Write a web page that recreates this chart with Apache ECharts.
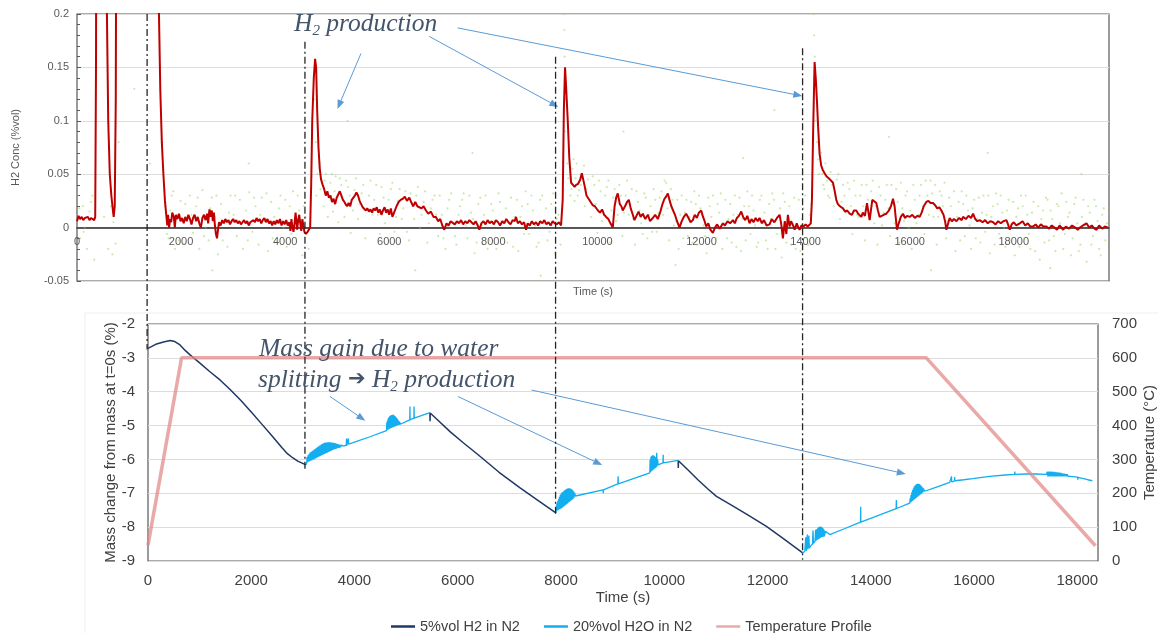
<!DOCTYPE html>
<html>
<head>
<meta charset="utf-8">
<title>H2 production and mass change</title>
<script src="https://cdn.jsdelivr.net/npm/echarts@6/dist/echarts.min.js"></script>
<style>
  html, body { margin: 0; padding: 0; background: #fff; }
  #main { width: 1158px; height: 633px; }
</style>
</head>
<body>
<div id="main"></div>
<script>
// ---- top panel: H2 concentration (%vol) against time (s) ----
var h2ConcLine = [
  [0,0.006],[30,0.011],[60,0.008],[90,0.01],[120,0.007],[150,0.009],[180,0.008],[210,0.01],[240,0.007],[270,0.009],[300,0.008],[330,0.007],[350,0.01],[365,0.15],[375,0.4],
  [560,0.4],[575,0.2],[600,0.1],[630,0.05],[660,0.03],[690,0.016],[705,0.01],[725,0.02],[745,0.12],[760,0.4],
  [1555,0.4],[1575,0.2],[1600,0.13],[1630,0.08],[1660,0.05],[1690,0.025],[1715,0.012],[1735,0.002],[1750,0.012],[1770,0.0],[1790,0.008],[1810,0.005],[1830,0.014],[1860,0.01],[1880,0.0],[1900,0.012],[1930,0.008],[1960,0.013],[1990,0.006],[2020,0.009],[2050,0.004],[2080,0.01],[2110,0.006],[2140,0.012],[2170,0.008],[2200,0.003],[2230,0.009],[2260,0.012],[2290,0.006],[2320,0.01],[2350,0.004],[2380,0.0],[2410,0.009],[2440,0.012],[2470,0.007],[2500,0.013],[2520,0.004],[2545,0.017],[2565,0.01],[2590,0.016],[2610,0.006],[2630,0.014],[2650,0.002],[2670,-0.006],[2690,-0.01],[2710,-0.002],[2730,0.005],[2760,0.002],[2790,0.007],[2820,0.004],[2850,0.008],[2880,0.005],[2910,0.007],[2940,0.003],[2970,0.006],[3000,0.008],[3030,0.005],[3060,0.007],[3090,0.004],[3120,0.006],[3150,0.003],[3180,0.005],[3210,0.007],[3240,0.004],[3270,0.006],[3300,0.002],[3330,0.005],[3360,0.004],[3390,0.007],[3420,0.005],[3450,0.009],[3480,0.006],[3510,0.008],[3540,0.004],[3570,0.007],[3600,0.009],[3630,0.005],[3660,0.008],[3690,0.004],[3720,0.006],[3750,0.002],[3780,0.006],[3810,0.003],[3840,0.007],[3870,0.004],[3900,0.008],[3930,0.002],[3960,0.006],[3990,0.003],[4020,0.007],[4050,0.002],[4080,0.005],[4100,-0.003],[4120,0.008],[4140,0.0],[4160,-0.004],[4180,0.004],[4200,0.014],[4215,0.006],[4230,-0.002],[4250,0.007],[4270,0.012],[4290,0.004],[4310,-0.003],[4330,0.008],[4350,0.002],[4370,-0.004],[4400,-0.006],[4430,-0.004],[4460,-0.005],[4480,0.0],
  [4500,0.04],[4520,0.1],[4550,0.14],[4575,0.158],[4595,0.15],[4615,0.11],[4640,0.075],[4665,0.055],[4690,0.045],[4720,0.04],[4750,0.036],[4780,0.03],[4810,0.034],[4840,0.028],[4870,0.03],[4900,0.024],[4930,0.027],[4960,0.022],[4990,0.028],[5020,0.031],[5050,0.034],[5080,0.03],[5110,0.026],[5140,0.024],[5160,0.022],[5190,0.02],[5220,0.023],[5250,0.02],[5280,0.026],[5310,0.028],[5340,0.03],[5370,0.033],[5400,0.03],[5430,0.025],[5460,0.022],[5490,0.019],[5520,0.018],[5550,0.016],[5580,0.018],[5610,0.015],[5640,0.017],[5670,0.014],[5700,0.018],[5730,0.016],[5760,0.019],[5790,0.014],[5820,0.017],[5850,0.012],[5880,0.016],[5910,0.019],[5940,0.014],[5970,0.017],[6000,0.012],[6030,0.018],[6060,0.01],[6100,0.015],[6140,0.02],[6180,0.024],[6220,0.026],[6260,0.027],[6300,0.029],[6340,0.025],[6385,0.028],[6420,0.024],[6460,0.02],[6500,0.024],[6540,0.02],[6577,0.021],[6620,0.018],[6660,0.02],[6705,0.016],[6750,0.013],[6800,0.015],[6850,0.01],[6897,0.01],[6940,0.006],[6980,0.008],[7020,0.002],[7058,-0.002],[7100,0.004],[7140,0.002],[7180,0.006],[7218,0.007],[7260,0.003],[7300,0.006],[7340,0.004],[7380,0.007],[7420,0.003],[7460,0.006],[7500,0.004],[7540,0.007],[7580,0.005],[7620,0.003],[7660,0.006],[7700,0.002],[7731,-0.002],[7770,0.004],[7810,0.006],[7850,0.003],[7890,0.007],[7930,0.004],[7970,0.006],[8010,0.003],[8050,0.007],[8090,0.005],[8130,0.002],[8170,0.006],[8210,0.004],[8250,0.008],[8290,0.005],[8330,0.003],[8370,0.007],[8410,0.006],[8436,0.01],[8470,0.004],[8510,0.006],[8550,0.003],[8590,0.005],[8628,-0.002],[8660,0.004],[8700,0.002],[8740,0.006],[8780,0.003],[8820,0.005],[8860,0.002],[8900,0.006],[8940,0.004],[8980,0.007],[9020,0.003],[9060,0.005],[9100,0.002],[9140,0.006],[9180,0.004],[9220,0.003],[9260,0.005],[9301,0.002],
  [9333,0.026],[9355,0.11],[9378,0.15],[9400,0.13],[9430,0.1],[9460,0.065],[9494,0.042],[9530,0.04],[9560,0.038],[9590,0.04],[9630,0.041],[9670,0.045],[9700,0.051],[9718,0.05],[9750,0.04],[9790,0.03],[9830,0.027],[9870,0.024],[9910,0.021],[9950,0.02],[9974,0.019],[10010,0.016],[10050,0.014],[10090,0.017],[10130,0.012],[10167,0.01],[10210,0.008],[10250,0.004],[10295,0.0],[10330,0.02],[10360,0.028],[10391,0.032],[10430,0.022],[10460,0.02],[10487,0.016],[10530,0.02],[10570,0.024],[10603,0.026],[10640,0.018],[10680,0.012],[10712,0.007],[10750,0.011],[10790,0.015],[10830,0.01],[10872,0.013],[10920,0.008],[10970,0.012],[11010,0.006],[11064,0.009],[11110,0.012],[11160,0.008],[11210,0.015],[11250,0.022],[11288,0.027],[11320,0.029],[11353,0.032],[11390,0.025],[11420,0.02],[11449,0.019],[11490,0.012],[11530,0.006],[11577,0.0],[11620,0.006],[11660,0.01],[11705,0.013],[11750,0.009],[11790,0.005],[11833,0.007],[11870,0.012],[11910,0.009],[11950,0.014],[11994,0.016],[12030,0.01],[12060,0.006],[12090,0.001],[12130,0.004],[12170,-0.002],[12218,-0.005],[12260,0.0],[12300,0.003],[12350,-0.001],[12410,0.004],[12450,0.002],[12500,0.006],[12550,0.004],[12603,0.007],[12640,0.004],[12680,0.009],[12720,0.011],[12763,0.015],[12800,0.01],[12840,0.007],[12880,0.011],[12923,0.004],[12960,0.008],[13000,0.005],[13040,0.009],[13080,0.006],[13115,0.009],[13160,0.004],[13200,0.007],[13250,0.002],[13308,0.003],[13350,0.008],[13400,0.005],[13450,0.009],[13500,0.012],[13530,0.004],[13564,-0.01],[13600,0.006],[13630,-0.006],[13660,0.012],[13692,0.001],[13720,0.006],[13760,0.002],[13790,-0.002],[13830,0.004],[13860,0.0],[13885,-0.002],[13920,0.002],[13960,0.001],[14000,0.003],[14040,0.001],[14077,0.0],[14100,0.004],
  [14122,0.026],[14145,0.09],[14173,0.155],[14195,0.14],[14218,0.119],[14240,0.095],[14269,0.069],[14300,0.058],[14330,0.054],[14365,0.051],[14400,0.048],[14449,0.046],[14490,0.044],[14526,0.042],[14560,0.034],[14590,0.026],[14620,0.022],[14660,0.02],[14718,0.018],[14760,0.015],[14800,0.016],[14846,0.013],[14890,0.012],[14930,0.016],[14974,0.016],[15010,0.013],[15040,0.012],[15071,0.01],[15100,0.014],[15140,0.011],[15180,0.023],[15205,0.015],[15231,0.007],[15255,0.016],[15282,0.026],[15320,0.025],[15359,0.023],[15390,0.016],[15423,0.01],[15460,0.011],[15500,0.012],[15551,0.013],[15600,0.016],[15640,0.02],[15679,0.027],[15710,0.02],[15735,0.008],[15756,-0.002],[15790,0.004],[15830,0.01],[15872,0.013],[15910,0.009],[15950,0.011],[16000,0.01],[16050,0.012],[16100,0.009],[16150,0.011],[16192,0.01],[16230,0.014],[16270,0.02],[16320,0.024],[16360,0.025],[16400,0.023],[16449,0.023],[16490,0.021],[16530,0.018],[16570,0.019],[16609,0.016],[16650,0.012],[16680,0.006],[16705,-0.002],[16740,0.004],[16769,0.009],[16810,0.006],[16850,0.008],[16900,0.006],[16950,0.009],[17000,0.007],[17026,0.01],[17080,0.008],[17130,0.011],[17180,0.009],[17218,0.013],[17260,0.008],[17300,0.006],[17346,0.007],[17400,0.005],[17450,0.007],[17500,0.004],[17550,0.006],[17603,0.005],[17650,0.003],[17700,0.006],[17750,0.004],[17800,0.006],[17859,0.007],[17890,0.003],[17923,-0.002],[17960,0.003],[18000,0.005],[18050,0.002],[18115,0.004],[18170,0.006],[18220,0.002],[18270,0.004],[18320,0.001],[18372,0.001],[18420,0.003],[18470,0.0],[18520,0.003],[18570,0.001],[18628,0.001],[18680,-0.001],[18730,0.002],[18780,0.0],[18830,-0.002],[18880,0.002],[18949,-0.002],[19000,0.001],[19060,-0.001],[19120,0.002],[19180,0.0],[19230,-0.002],[19269,0.0],[19330,0.002],[19397,0.004],[19450,0.0],[19500,0.002],[19550,-0.001],[19590,-0.002],[19640,0.002],[19700,-0.001],[19750,0.001],[19808,0.0]
];
// raw analyser readings (the faint green dots)
var h2ConcRaw = [
  [20,0.03],[60,-0.01],[110,0.02],[150,0.0],[190,-0.02],[240,0.015],[300,0.03],[330,-0.03],[520,0.01],[600,-0.02],[650,0.02],[680,-0.025],[700,0.005],[740,-0.015],[800,0.08],[1100,0.13],[1400,0.06],
  [1700,0.02],[1760,-0.01],[1820,0.03],[1880,-0.02],[1930,0.012],[1990,0.025],[2050,-0.015],[2110,0.008],[2170,0.03],[2230,-0.005],[2290,0.02],[2350,-0.02],[2410,0.035],[2470,0.0],[2530,-0.012],[2590,0.028],[2600,-0.04],[2650,0.01],[2710,-0.025],[2770,0.022],[2830,0.004],[2890,-0.018],[2950,0.03],[3010,0.012],[3070,-0.008],[3130,0.026],[3190,-0.02],[3250,0.016],[3300,0.06],[3310,0.033],[3370,-0.004],[3430,0.02],[3490,-0.016],[3550,0.028],[3610,0.006],[3670,-0.022],[3730,0.024],[3790,0.01],[3850,-0.012],[3910,0.03],[3970,0.0],[4030,-0.018],[4090,0.02],[4150,0.034],[4210,-0.01],[4270,0.016],[4330,-0.026],[4390,0.01],[4450,-0.02],
  [4560,0.12],[4590,0.08],[4620,0.05],[4660,0.06],[4700,0.045],[4740,0.02],[4780,0.05],[4820,0.01],[4870,0.042],[4920,0.015],[4970,0.048],[5020,0.005],[5080,0.04],[5140,0.01],[5200,0.1],[5210,0.038],[5260,-0.005],[5330,0.035],[5400,0.008],[5470,0.032],[5540,-0.01],[5610,0.03],[5680,0.012],[5750,0.04],[5820,-0.006],[5890,0.028],[5960,0.014],[6030,0.036],[6100,-0.004],[6170,0.025],[6240,0.008],[6310,0.034],[6380,-0.012],[6450,0.02],[6500,-0.04],[6520,0.03],[6590,0.0],[6660,0.024],[6730,-0.014],[6800,0.018],[6870,0.03],[6940,-0.008],[7010,0.012],[7080,-0.02],[7150,0.026],[7220,0.004],[7290,-0.016],[7360,0.02],[7430,0.032],[7500,-0.01],[7570,0.014],[7600,0.07],[7640,-0.024],[7710,0.022],[7780,0.002],[7850,0.03],[7920,-0.012],[7990,0.016],[8060,-0.02],[8130,0.024],[8200,0.006],[8270,-0.014],[8340,0.028],[8410,0.01],[8480,-0.022],[8550,0.02],[8620,0.034],[8690,-0.006],[8760,0.016],[8830,-0.018],[8900,0.026],[8910,-0.045],[8970,0.004],[9040,-0.012],[9110,0.022],[9180,-0.024],[9250,0.012],
  [9360,0.2],[9365,0.185],[9370,0.16],[9375,0.14],[9380,0.09],[9400,0.12],[9420,0.06],[9450,0.07],[9480,0.03],[9520,0.055],[9560,0.025],[9600,0.06],[9650,0.035],[9700,0.05],[9760,0.02],[9820,0.045],[9880,0.01],[9940,0.04],[10000,-0.005],[10060,0.034],[10120,0.012],[10180,0.038],[10240,-0.014],[10300,0.028],[10360,0.006],[10420,0.04],[10480,-0.008],[10500,0.09],[10540,0.03],[10600,0.012],[10660,0.036],[10720,-0.016],[10780,0.024],[10840,0.004],[10900,0.032],[10960,-0.01],[11020,0.02],[11080,0.036],[11140,-0.004],[11200,0.028],[11260,0.012],[11320,0.042],[11380,-0.012],[11440,0.026],[11500,-0.035],[11510,0.006],[11560,-0.02],[11620,0.03],[11680,0.014],[11740,-0.008],[11800,0.024],[11860,0.034],[11920,-0.016],[11980,0.018],[12040,0.002],[12100,-0.024],[12160,0.02],[12220,0.03],[12280,-0.01],[12340,0.014],[12400,-0.02],[12460,0.026],[12520,0.008],[12580,-0.014],[12640,0.03],[12700,0.012],[12760,-0.022],[12800,0.065],[12820,0.02],[12880,0.034],[12940,-0.006],[13000,0.016],[13060,-0.018],[13120,0.026],[13180,0.004],[13240,-0.012],[13300,0.022],[13360,0.032],[13400,0.11],[13420,-0.02],[13480,0.01],[13540,-0.028],[13600,0.024],[13660,0.006],[13720,-0.016],[13780,0.028],[13840,0.0],[13900,-0.022],[13960,0.018],[14020,-0.01],[14080,0.012],
  [14160,0.2],[14165,0.18],[14170,0.14],[14175,0.16],[14190,0.1],[14220,0.08],[14260,0.05],[14300,0.07],[14340,0.04],[14380,0.06],[14430,0.03],[14480,0.052],[14540,0.02],[14600,0.045],[14660,0.008],[14720,0.04],[14780,0.014],[14840,0.036],[14900,-0.006],[14960,0.03],[15020,0.01],[15080,0.04],[15140,-0.012],[15200,0.026],[15260,0.034],[15320,0.004],[15380,-0.016],[15440,0.03],[15500,0.014],[15560,0.04],[15600,0.085],[15620,-0.008],[15680,0.022],[15740,0.036],[15800,-0.014],[15860,0.018],[15920,0.03],[15980,0.0],[16040,-0.02],[16100,0.026],[16160,0.012],[16220,0.04],[16280,-0.006],[16340,0.03],[16400,0.044],[16410,-0.04],[16460,0.01],[16520,-0.016],[16580,0.034],[16640,0.02],[16700,-0.01],[16760,0.028],[16820,0.006],[16880,-0.022],[16940,0.024],[17000,0.034],[17060,-0.008],[17120,0.016],[17180,-0.02],[17240,0.026],[17300,0.008],[17360,-0.014],[17420,0.03],[17480,0.012],[17500,0.07],[17540,-0.024],[17600,0.02],[17660,0.032],[17720,-0.006],[17780,0.014],[17840,-0.018],[17900,0.026],[17960,0.004],[18020,-0.026],[18080,0.018],[18140,0.03],[18200,-0.01],[18260,0.012],[18320,-0.02],[18380,0.024],[18440,0.002],[18500,-0.03],[18560,0.016],[18620,0.028],[18680,-0.012],[18700,-0.038],[18740,0.008],[18800,-0.022],[18860,0.02],[18920,0.032],[18980,-0.006],[19040,0.01],[19100,-0.026],[19160,0.022],[19220,0.004],[19280,-0.016],[19300,0.05],[19340,0.026],[19400,-0.032],[19460,0.014],[19520,-0.008],[19580,0.02],[19640,-0.02],[19700,0.012],[19760,-0.012],
  [45,0.018],[130,-0.004],[270,0.024],[1730,-0.006],[1790,0.016],[1850,0.034],[1960,-0.012],[2080,0.022],[2200,0.012],[2320,0.028],[2440,-0.008],[2560,0.018],[2680,0.03],[2800,-0.012],[2920,0.014],[3040,0.03],[3160,0.004],[3280,-0.012],[3400,0.028],[3520,0.012],[3640,0.032],[3760,-0.01],[3880,0.018],[4000,0.026],[4120,-0.006],[4240,0.03],[4360,0.02],[4480,0.004],
  [4600,0.03],[4680,0.036],[4760,0.044],[4840,0.03],[4900,0.05],[4950,0.034],[5050,0.046],[5110,0.026],[5170,0.044],[5240,0.03],[5300,0.016],[5360,0.046],[5430,0.022],[5500,0.04],[5570,0.018],[5640,0.044],[5710,0.026],[5780,0.012],[5850,0.038],[5920,0.004],[5990,0.026],[6060,0.042],[6130,0.01],[6200,0.036],[6270,0.018],[6340,-0.004],[6410,0.032],[6480,0.008],[6550,0.038],[6620,0.012],[6690,0.034],[6760,0.004],[6830,0.026],[6900,0.012],[6970,0.03],[7040,-0.01],[7120,0.018],[7190,0.032],[7260,-0.008],[7330,0.012],[7400,0.026],[7470,0.002],[7540,0.03],[7610,0.008],[7680,-0.014],[7750,0.028],[7820,0.012],[7890,-0.02],[7960,0.022],[8030,0.006],[8100,0.032],[8170,-0.01],[8240,0.018],[8310,0.004],[8380,-0.018],[8450,0.026],[8520,0.01],[8590,-0.006],[8660,0.022],[8730,0.03],[8800,0.002],[8870,-0.014],[8940,0.03],[9010,0.018],[9080,-0.004],[9150,0.032],[9220,0.008],[9290,-0.016],
  [9440,0.046],[9500,0.036],[9540,0.064],[9580,0.046],[9620,0.03],[9680,0.04],[9740,0.058],[9790,0.036],[9850,0.026],[9910,0.048],[9970,0.022],[10030,0.044],[10090,0.006],[10150,0.03],[10210,0.044],[10270,0.016],[10330,0.036],[10390,0.012],[10450,0.03],[10510,0.014],[10570,0.044],[10630,0.022],[10690,0.008],[10750,0.034],[10810,0.016],[10870,-0.006],[10930,0.028],[10990,0.012],[11050,-0.004],[11110,0.026],[11170,0.014],[11230,0.034],[11290,0.044],[11350,0.018],[11410,0.036],[11470,0.002],[11530,0.026],[11590,0.012],[11650,-0.01],[11710,0.026],[11770,0.01],[11830,-0.014],[11890,0.022],[11950,0.03],[12010,0.012],[12070,-0.008],[12130,0.028],[12190,0.01],[12250,-0.016],[12310,0.022],[12370,0.032],[12430,0.004],[12490,-0.01],[12550,0.022],[12610,0.012],[12670,-0.018],[12730,0.028],[12790,0.008],[12850,-0.012],[12910,0.02],[12970,0.03],[13030,0.002],[13090,-0.014],[13150,0.03],[13210,0.014],[13270,-0.02],[13330,0.008],[13390,0.026],[13450,-0.006],[13510,0.018],[13570,0.032],[13630,-0.014],[13690,0.02],[13750,0.004],[13810,-0.02],[13870,0.026],[13930,0.008],[13990,0.03],[14050,-0.016],[14110,0.022],
  [14240,0.064],[14320,0.05],[14360,0.036],[14410,0.044],[14460,0.028],[14510,0.04],[14570,0.03],[14630,0.05],[14690,0.024],[14750,0.03],[14810,0.042],[14870,0.02],[14930,0.044],[14990,0.012],[15050,0.03],[15110,0.02],[15170,0.04],[15230,0.008],[15290,0.044],[15350,0.02],[15410,0.038],[15470,0.002],[15530,0.026],[15590,0.018],[15650,0.04],[15710,0.004],[15770,0.024],[15830,0.042],[15890,0.006],[15950,0.034],[16010,0.016],[16070,0.04],[16130,0.004],[16190,0.03],[16250,0.02],[16310,0.044],[16370,0.012],[16430,0.032],[16490,0.04],[16550,0.01],[16610,0.03],[16670,0.042],[16730,0.006],[16790,0.02],[16850,0.034],[16910,0.01],[16970,-0.012],[17030,0.022],[17090,0.03],[17150,0.002],[17210,0.018],[17270,-0.01],[17330,0.028],[17390,0.014],[17450,-0.004],[17510,0.03],[17570,0.01],[17630,-0.016],[17690,0.022],[17750,0.03],[17810,0.0],[17870,0.016],[17930,-0.012],[17990,0.024],[18050,0.01],[18110,-0.018],[18170,0.02],[18230,0.03],[18290,-0.006],[18350,0.014],[18410,-0.022],[18470,0.02],[18530,0.008],[18590,-0.014],[18650,0.026],[18710,0.016],[18770,-0.008],[18830,0.022],[18890,0.004],[18950,-0.02],[19010,0.024],[19070,0.014],[19130,-0.01],[19190,0.028],[19250,-0.022],[19310,0.01],[19370,0.002],[19430,0.02],[19490,-0.016],[19550,0.026],[19610,0.006],[19670,-0.026],[19730,0.018],[19790,0.004]
];

// ---- bottom panel: mass change from mass at t=0s (%) against time (s) ----
// 5%vol H2 in N2 (reduction steps)
var massH2Seg = [
  [[0,-2.72],[150,-2.6],[300,-2.53],[430,-2.49],[520,-2.52],[620,-2.62],[720,-2.78],[820,-2.92],[1000,-3.15],[1200,-3.41],[1400,-3.66],[1600,-3.95],[1800,-4.26],[2000,-4.6],[2200,-4.95],[2400,-5.3],[2600,-5.66],[2700,-5.83],[2800,-5.95],[2900,-6.05],[3060,-6.16]],
  [[5460,-4.62],[5463,-4.87],[5466,-4.63],[5600,-4.82],[5850,-5.18],[6100,-5.5],[6400,-5.87],[6800,-6.38],[7200,-6.83],[7600,-7.26],[7900,-7.58]],
  [[10268,-6.03],[10271,-6.25],[10274,-6.04],[10450,-6.3],[10650,-6.6],[10850,-6.88],[11010,-7.09],[11300,-7.35],[11600,-7.62],[11978,-7.98],[12300,-8.33],[12680,-8.76]]
];
// 20%vol H2O in N2 (water splitting steps)
var massH2OSeg = [
  [[3060,-6.16],[3075,-6.1],[3080,-5.93],[3090,-6.08],[3100,-5.88],[3110,-6.07],[3120,-5.84],[3130,-6.05],[3140,-5.8],[3150,-6.04],[3160,-5.78],[3170,-6.03],[3180,-5.75],[3190,-6.01],[3200,-5.74],[3210,-6.0],[3220,-5.71],[3230,-5.98],[3240,-5.69],[3250,-5.97],[3260,-5.66],[3270,-5.95],[3280,-5.64],[3290,-5.93],[3300,-5.62],[3310,-5.92],[3320,-5.6],[3330,-5.9],[3340,-5.58],[3350,-5.89],[3360,-5.55],[3370,-5.87],[3380,-5.54],[3390,-5.86],[3400,-5.52],[3410,-5.84],[3420,-5.51],[3430,-5.83],[3440,-5.5],[3450,-5.81],[3460,-5.5],[3470,-5.8],[3480,-5.49],[3490,-5.78],[3500,-5.49],[3510,-5.77],[3520,-5.49],[3530,-5.75],[3540,-5.5],[3550,-5.74],[3560,-5.5],[3570,-5.72],[3580,-5.51],[3590,-5.71],[3600,-5.51],[3610,-5.7],[3620,-5.52],[3630,-5.69],[3640,-5.53],[3650,-5.68],[3660,-5.54],[3670,-5.67],[3680,-5.55],[3690,-5.66],[3700,-5.56],[3710,-5.65],[3720,-5.57],[3730,-5.64],[3740,-5.58],[3750,-5.63],[3765,-5.6],[3790,-5.61],[3840,-5.58],[3845,-5.38],[3850,-5.6],[3875,-5.56],[3880,-5.38],[3885,-5.55],[4040,-5.47],[4300,-5.33],[4620,-5.15],[4625,-4.9],[4632,-5.13],[4640,-4.84],[4648,-5.12],[4656,-4.78],[4664,-5.1],[4672,-4.74],[4680,-5.09],[4688,-4.71],[4696,-5.08],[4704,-4.7],[4712,-5.07],[4720,-4.69],[4728,-5.06],[4736,-4.68],[4744,-5.05],[4752,-4.68],[4760,-5.04],[4768,-4.7],[4776,-5.03],[4784,-4.72],[4792,-5.02],[4800,-4.75],[4808,-5.01],[4816,-4.78],[4824,-5.0],[4832,-4.81],[4840,-4.99],[4850,-4.85],[4860,-4.98],[4870,-4.88],[4885,-4.96],[4900,-4.95],[5070,-4.83],[5073,-4.44],[5076,-4.83],[5150,-4.78],[5153,-4.44],[5156,-4.78],[5460,-4.62]],
  [[7900,-7.58],[7915,-7.53],[7922,-7.3],[7930,-7.51],[7938,-7.22],[7946,-7.5],[7954,-7.16],[7962,-7.48],[7970,-7.1],[7978,-7.47],[7986,-7.05],[7994,-7.45],[8002,-7.01],[8010,-7.44],[8018,-6.98],[8026,-7.42],[8034,-6.96],[8042,-7.4],[8050,-6.94],[8058,-7.38],[8066,-6.92],[8074,-7.36],[8082,-6.9],[8090,-7.34],[8098,-6.88],[8106,-7.32],[8114,-6.87],[8122,-7.3],[8130,-6.86],[8138,-7.28],[8146,-6.85],[8154,-7.26],[8162,-6.85],[8170,-7.24],[8178,-6.86],[8186,-7.22],[8194,-6.87],[8202,-7.2],[8210,-6.89],[8218,-7.18],[8226,-6.91],[8234,-7.16],[8242,-6.94],[8250,-7.13],[8260,-6.98],[8280,-7.08],[8815,-6.9],[8818,-7.0],[8821,-6.9],[9100,-6.72],[9105,-6.5],[9110,-6.72],[9719,-6.4],[9725,-6.0],[9733,-6.37],[9741,-5.92],[9749,-6.35],[9757,-5.9],[9765,-6.33],[9773,-5.88],[9781,-6.31],[9789,-5.88],[9797,-6.29],[9805,-5.9],[9813,-6.27],[9821,-5.92],[9829,-6.25],[9837,-5.95],[9845,-6.23],[9853,-5.8],[9861,-6.2],[9870,-6.0],[9880,-6.16],[9913,-6.12],[9975,-6.1],[9978,-5.86],[9981,-6.1],[10268,-6.03]],
  [[12680,-8.76],[12720,-8.72],[12740,-8.3],[12750,-8.7],[12770,-8.22],[12780,-8.66],[12800,-8.25],[12810,-8.62],[12830,-8.56],[12870,-8.5],[12880,-8.1],[12890,-8.48],[12920,-8.42],[12930,-8.08],[12940,-8.4],[12950,-8.06],[12960,-8.38],[12970,-8.03],[12980,-8.36],[12990,-8.0],[13000,-8.34],[13010,-7.99],[13020,-8.32],[13030,-7.98],[13040,-8.3],[13050,-8.0],[13060,-8.29],[13070,-8.03],[13080,-8.28],[13090,-8.06],[13100,-8.27],[13120,-8.12],[13204,-8.22],[13500,-8.04],[13752,-7.88],[13800,-7.85],[13803,-7.4],[13806,-7.85],[14490,-7.45],[14495,-7.2],[14500,-7.45],[14754,-7.29],[14762,-7.15],[14770,-7.27],[14778,-7.05],[14786,-7.25],[14794,-6.97],[14802,-7.23],[14810,-6.9],[14818,-7.21],[14826,-6.85],[14834,-7.19],[14842,-6.8],[14850,-7.17],[14858,-6.77],[14866,-7.15],[14874,-6.75],[14882,-7.13],[14890,-6.73],[14898,-7.11],[14906,-6.72],[14914,-7.09],[14922,-6.72],[14930,-7.07],[14938,-6.73],[14946,-7.05],[14954,-6.75],[14962,-7.03],[14970,-6.77],[14978,-7.01],[14986,-6.8],[14994,-6.99],[15002,-6.83],[15010,-6.97],[15020,-6.86],[15040,-6.94],[15076,-6.93],[15300,-6.8],[15527,-6.68],[15560,-6.66],[15563,-6.5],[15566,-6.66],[15620,-6.64],[15623,-6.52],[15626,-6.63],[15800,-6.6],[15973,-6.57],[16300,-6.5],[16600,-6.46],[16785,-6.44],[16788,-6.36],[16791,-6.44],[17000,-6.43],[17200,-6.43],[17404,-6.44],[17415,-6.36],[17430,-6.5],[17445,-6.36],[17460,-6.5],[17475,-6.36],[17490,-6.5],[17505,-6.36],[17520,-6.5],[17535,-6.37],[17550,-6.5],[17565,-6.37],[17580,-6.5],[17595,-6.38],[17610,-6.5],[17625,-6.38],[17640,-6.5],[17655,-6.39],[17670,-6.5],[17685,-6.4],[17700,-6.5],[17715,-6.41],[17730,-6.5],[17745,-6.42],[17760,-6.5],[17775,-6.43],[17790,-6.5],[17805,-6.44],[17820,-6.5],[17840,-6.46],[17860,-6.5],[17890,-6.5],[18006,-6.52],[18009,-6.6],[18012,-6.53],[18100,-6.56],[18200,-6.6],[18290,-6.63]]
];
// furnace temperature (°C)
var tempProfile = [[0,47],[650,600],[15075,600],[18350,45]];

// gas switching events, drawn as dash-dot lines through both panels
var eventTimeTop = [1330, 4360, 9190, 13940];
var eventConcTop = [0.2, 0.174, 0.16, 0.168];
var eventTimeBottom = [0, 3060, 7900, 12680];
var eventMassBottom = [-2.75, -6.36, -7.68, -8.96];

// annotation arrows [from, to] in data units
var arrowsTop = [
  [[5456, 0.163], [5038, 0.115]],
  [[6769, 0.179], [9173, 0.115]],
  [[7313, 0.187], [13852, 0.124]]
];
var arrowsBottom = [
  [[3524, -4.14], [4137, -4.78]],
  [[6002, -4.14], [8718, -6.11]],
  [[7429, -3.95], [14592, -6.40]]
];

var NAVY = '#1f3864', SKY = '#12aef0', PINK = 'rgba(226,136,136,0.72)';
var textGrey = '#595959', textDark = '#404040';

function arrowMarks(list) {
  return {
    silent: true,
    symbol: ['none', 'triangle'],
    symbolSize: [7, 9],
    label: { show: false },
    lineStyle: { color: '#5b9bd5', width: 1, type: 'solid' },
    data: list.map(function (a) {
      return [{ coord: a[0] }, { coord: a[1] }];
    })
  };
}

var series = [
  {
    name: 'raw', type: 'scatter', xAxisIndex: 0, yAxisIndex: 0,
    data: h2ConcRaw, symbolSize: 2.2, silent: true,
    itemStyle: { color: 'rgba(146,208,80,0.6)' }
  },
  {
    name: 'H2 Conc', type: 'line', xAxisIndex: 0, yAxisIndex: 0,
    data: h2ConcLine, showSymbol: false, symbol: 'none',
    lineStyle: { color: '#c00000', width: 2 },
    markLine: arrowMarks(arrowsTop)
  }
];
massH2Seg.forEach(function (seg, i) {
  series.push({
    name: '5%vol H2 in N2', type: 'line', xAxisIndex: 1, yAxisIndex: 1,
    data: seg, symbol: 'none', color: NAVY,
    lineStyle: { color: NAVY, width: 1.5 },
    markLine: i === 0 ? arrowMarks(arrowsBottom) : undefined
  });
});
massH2OSeg.forEach(function (seg) {
  series.push({
    name: '20%vol H2O in N2', type: 'line', xAxisIndex: 1, yAxisIndex: 1,
    data: seg, symbol: 'none', color: SKY,
    lineStyle: { color: SKY, width: 1.3 }
  });
});
series.push({
  name: 'Temperature Profile', type: 'line', xAxisIndex: 1, yAxisIndex: 2,
  data: tempProfile, symbol: 'none', color: PINK,
  lineStyle: { color: PINK, width: 3.5 }
});

var option = {
  animation: false,
  backgroundColor: '#fff',
  textStyle: { fontFamily: 'Liberation Sans, Arial, sans-serif' },
  grid: [
    { left: 77, top: 14, width: 1032, height: 267, outerBoundsMode: 'none', show: true, borderColor: '#595959', borderWidth: 1.2, backgroundColor: 'transparent' },
    { left: 148, top: 324, width: 950, height: 237, outerBoundsMode: 'none', show: true, borderColor: '#595959', borderWidth: 1.2, backgroundColor: 'transparent' }
  ],
  legend: {
    data: ['5%vol H2 in N2', '20%vol H2O in N2', 'Temperature Profile'],
    left: 386, top: 614, icon: 'rect', itemWidth: 24, itemHeight: 2.5, itemGap: 24,
    textStyle: { fontSize: 14.5, color: textDark }
  },
  xAxis: [
    {
      type: 'value', gridIndex: 0, min: 0, max: 19830, interval: 2000,
      axisLine: { onZero: true, lineStyle: { color: '#262626', width: 1.5 } },
      axisTick: { show: false },
      axisLabel: { fontSize: 11, color: textGrey, margin: -45,
        formatter: function (v) { return v % 2000 === 0 ? String(v) : ''; } },
      splitLine: { show: false },
      name: 'Time (s)', nameLocation: 'middle', nameGap: 5, nameMoveOverlap: false,
      nameTextStyle: { fontSize: 11, color: textGrey }
    },
    {
      type: 'value', gridIndex: 1, min: 0, max: 18400, interval: 2000,
      axisLine: { show: false },
      axisTick: { show: false },
      axisLabel: { fontSize: 15, color: textDark, margin: 12,
        formatter: function (v) { return v % 2000 === 0 ? String(v) : ''; } },
      splitLine: { show: false },
      name: 'Time (s)', nameLocation: 'middle', nameGap: 29, nameMoveOverlap: false,
      nameTextStyle: { fontSize: 15, color: textDark }
    }
  ],
  yAxis: [
    {
      type: 'value', gridIndex: 0, min: -0.05, max: 0.2, interval: 0.05,
      axisLine: { show: false },
      axisTick: { show: true, inside: true, length: 4, lineStyle: { color: '#595959' } },
      minorTick: { show: true, splitNumber: 5, length: 3, lineStyle: { color: '#595959' } },
      axisLabel: { fontSize: 11, color: textGrey, margin: 8 },
      splitLine: { lineStyle: { color: '#dedede', width: 1.2 } },
      name: 'H2 Conc (%vol)', nameLocation: 'middle', nameGap: 56, nameMoveOverlap: false,
      nameTextStyle: { fontSize: 11, color: textGrey }
    },
    {
      type: 'value', gridIndex: 1, min: -9, max: -2, interval: 1,
      axisLine: { show: false },
      axisTick: { show: false },
      axisLabel: { fontSize: 15, color: textDark, margin: 13 },
      splitLine: { lineStyle: { color: '#dcdcdc', width: 1.2 } },
      name: 'Mass change from mass at t=0s (%)', nameLocation: 'middle', nameGap: 30, nameMoveOverlap: false,
      nameTextStyle: { fontSize: 15, color: textDark }
    },
    {
      type: 'value', gridIndex: 1, position: 'right', min: 0, max: 700, interval: 100,
      axisLine: { show: false },
      axisTick: { show: false },
      axisLabel: { fontSize: 15, color: textDark, margin: 14 },
      splitLine: { show: false },
      name: 'Temperature (°C)', nameLocation: 'middle', nameGap: 44, nameMoveOverlap: false,
      nameTextStyle: { fontSize: 15, color: textDark }
    }
  ],
  series: series
};

var chart = echarts.init(document.getElementById('main'));
chart.setOption(option);

// annotations: texts + dash-dot event lines
var serif = 'Liberation Serif, Times New Roman, serif';
var noteColor = '#44546a';
var richNote = {
  i: { fontFamily: serif, fontStyle: 'italic', fontSize: 25.5, lineHeight: 30, fill: noteColor, color: noteColor },
  s: { fontFamily: serif, fontStyle: 'italic', fontSize: 15, lineHeight: 15, verticalAlign: 'bottom', fill: noteColor, color: noteColor },
  a: { fontFamily: 'DejaVu Sans', fontWeight: 'bold', fontSize: 21, lineHeight: 30, fill: noteColor, color: noteColor }
};
var graphics = [
  { type: 'rect', silent: true, z: -1, shape: { x: 85, y: 313, width: 1080, height: 330 },
    style: { fill: 'none', stroke: '#eeeeee', lineWidth: 1 } },
  { type: 'text', silent: true, z: 110, x: 294, y: 9,
    style: { text: '{i|H}{s|2}{i| production}', rich: richNote, fill: noteColor, align: 'left', verticalAlign: 'top' } },
  { type: 'text', silent: true, z: 110, x: 259, y: 334,
    style: { text: '{i|Mass gain due to water}', rich: richNote, fill: noteColor, align: 'left', verticalAlign: 'top' } },
  { type: 'text', silent: true, z: 110, x: 258, y: 365,
    style: { text: '{i|splitting }{a|➔}{i| H}{s|2}{i| production}', rich: richNote, fill: noteColor, align: 'left', verticalAlign: 'top' } }
];
for (var k = 0; k < eventTimeTop.length; k++) {
  var pTop = chart.convertToPixel({ xAxisIndex: 0, yAxisIndex: 0 }, [eventTimeTop[k], eventConcTop[k]]);
  var pBot = chart.convertToPixel({ xAxisIndex: 1, yAxisIndex: 1 }, [eventTimeBottom[k], eventMassBottom[k]]);
  var xm = (pTop[0] + pBot[0]) / 2;
  graphics.push({
    type: 'line', silent: true, z: 100,
    shape: { x1: xm, y1: pTop[1], x2: xm, y2: pBot[1] },
    style: { stroke: '#262626', lineWidth: 1.3, lineDash: [7, 3, 2, 3] }
  });
}
chart.setOption({ graphic: graphics });
</script>
</body>
</html>
